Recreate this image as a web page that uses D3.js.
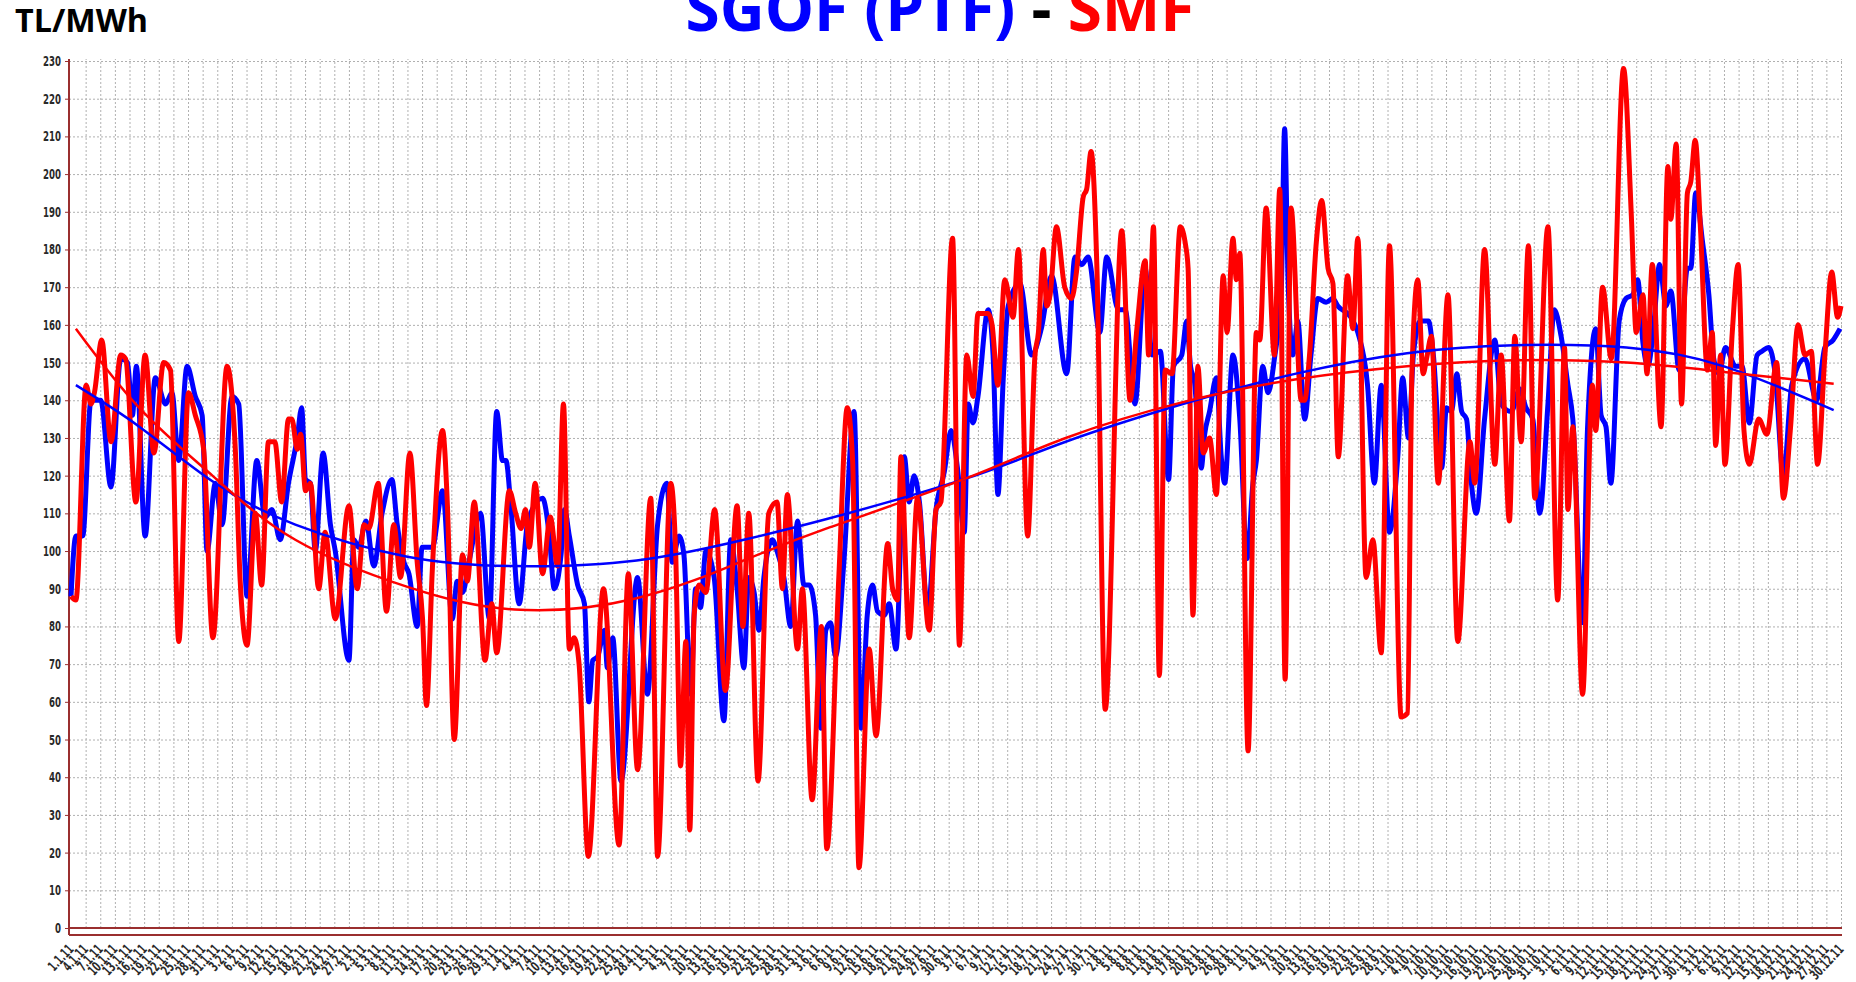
<!DOCTYPE html>
<html>
<head>
<meta charset="utf-8">
<script src="https://cdn.jsdelivr.net/npm/d3@7"></script>
<style>
  body { margin: 0; background: #fff; }
  .grid line { stroke: #b0b0b0; stroke-dasharray: 2,2; }
  .grid path { display: none; }
  .axis text { font-family: "DejaVu Sans", sans-serif; font-stretch: condensed; font-weight: bold; fill: #2a2a2a; }
</style>
</head>
<body>
<svg id="chart"></svg>
<script>
// day of year 2011 (1 = 1 Jan) and price TL/MWh at turning points
var sgofDays = [1,2,3.4,5.1,7.1,9.2,11.2,12.6,13.6,14.4,16.2,18.3,20.4,21.7,23.1,24.8,26.5,27.9,28.9,30.6,32,34,35.4,37.1,39.1,40.8,42.2,43.9,45.6,47.4,48.3,49.1,50.1,51.1,52.7,54.2,55.2,58,59,60,61.5,63.1,64.8,66.8,67.9,69.3,70.3,72,73,75.1,77.2,79.2,80.2,81.3,82.6,85,86.8,88.3,89.5,90.2,91.2,92.9,94.7,97.7,99.1,100.1,101.5,102.2,103.2,104.9,106.3,107.2,108,109,110.4,111,112.1,113.8,117.2,119.2,121.3,123.2,124.3,125.7,126.7,128.1,129.1,130.1,131.2,132.9,134.9,136.3,137.6,139,140,141.1,142.1,143.1,144.8,145.8,147.2,148.6,150,151.3,152.4,153.7,154.8,155.8,156.8,157.8,159.5,161.6,163,164.3,165.4,166.4,167.8,168.8,170.2,171.9,172.9,173.9,175,176.7,178.4,180.1,181.5,182.8,184.2,185,186,187,189.1,190.1,191.1,192.2,193.2,195.6,198,200,202.1,205.2,206.9,208.3,209.6,212,213.4,215.8,217.2,219.2,221.3,222.7,224.4,226.1,227.1,228.8,229.8,230.6,231.4,232.8,233.5,234.5,235.9,236.9,237.6,239.3,240.7,242.2,243.4,244.1,245.4,246.5,247.8,249.2,249.9,250.6,251.6,252.6,254,255.3,256.7,258.4,259.8,260.8,263.5,264.9,266.9,268.3,269.7,271.4,273.1,274.1,275.3,276.3,277.7,279.4,280.4,282.1,283.1,284.1,285.2,286.2,287.2,288.2,289.2,290.9,293,294.3,296.4,298.1,299.4,300.8,302.2,303.9,305.2,306.6,308,309,311,312,313.7,314.8,315.8,316.8,318.5,319.9,321.3,322.3,323.4,324.4,325.4,326.8,328.1,329.1,330.8,332.5,333.2,334.2,335.6,336.9,337.9,339,340.3,342.4,343.7,345.2,346.8,347.8,349.2,350.5,352.2,353.9,356.6,359,360.7,362.4,363.8];
var sgofPrices = [88,104,104,140,140,117,151,150,136,149,104,146,139,142,124,149,141,136,100,118,107,141,139,88,124,109,111,103,118,130,138,119,118,100,126,107,100,71,103,101,108,96,110,119,107,97,94,80,101,101,116,82,92,89,97,110,82,137,124,124,112,86,108,114,104,90,99,111,104,91,86,60,71,72,79,69,77,39,93,62,107,118,97,104,99,62,90,85,100,93,55,103,90,69,93,89,79,93,103,100,93,80,108,91,91,83,53,79,81,72,97,137,53,83,91,84,83,86,74,125,113,120,113,84,111,121,132,122,105,139,134,141,164,152,115,146,165,171,152,159,173,147,178,176,178,158,178,164,164,139,175,152,153,119,149,152,161,149,145,122,131,137,146,125,118,152,135,98,118,124,149,142,151,169,212,172,152,161,135,152,167,166,167,165,162,158,144,118,144,105,125,146,130,152,161,161,152,122,138,137,147,137,135,118,110,135,156,139,137,143,138,135,110,139,164,157,144,135,81,132,159,136,133,118,161,167,168,172,155,149,157,176,165,169,148,175,175,195,182,168,151,147,154,149,149,134,152,153,154,147,120,144,151,140,154,156,159];

var smfDays = [1,2,4.1,5.1,5.8,7.3,9.2,11.2,12.2,14.3,16.2,18,20,21.4,23.1,25.1,26.5,28.2,30.1,33,34.7,35.7,37.1,38.8,40.1,41.5,42.8,44.2,45.6,46.3,47.4,48.1,49.1,50.1,51.8,53.1,55.2,58,59.7,61.1,62.1,64,65.7,67.2,68.6,70.5,72,73.1,73.9,75.1,77.2,78.2,79.6,81.3,82.3,83.7,85.9,87.3,88.3,90.9,92.2,93.3,94.2,95,96.2,97.7,99.3,100.8,102,103.2,104.2,105.2,107.1,110.2,113.4,115.3,117.2,119.9,121.3,124,125,126,127.1,127.9,128.8,129.8,131.2,133,135.2,137.6,138.8,140,141.9,144.1,145.8,146.9,147.9,150,151,153,154.9,156,158.5,160.2,161.3,162.6,164.7,166.1,168.5,169.5,170.5,171.2,172.9,174.6,177,178.4,179.4,181.8,183.2,184.7,186,187,189.1,189.9,191.1,192.5,194.2,195.3,197.2,198.7,199.4,200.4,201.1,201.8,203.1,204.8,206.2,207.2,208.6,209.3,210.2,211.4,213.1,216.5,218.2,219.6,221.3,222,223,224.2,225.4,226.8,228.5,229.6,230.1,231.1,232.1,233.2,234.5,235.9,237.3,238.1,239.3,240,240.7,242.4,244.1,244.8,246.1,247.8,248.9,250,251.2,253.3,254,255,256.4,257.5,258.8,259.8,260.9,262.8,263.9,264.9,266.6,268,269.7,271.4,273.8,275.1,276,277.2,278.3,279,280,281.4,283.4,285.4,287.9,288.9,290.9,293,294.3,296,297.1,298.4,299.9,301.2,303.9,305.9,307.3,308,309,311,313,313.7,315.1,316.9,319.4,321,322,323.4,324.2,325.3,327.1,328.5,329.1,330.2,331.3,332.5,333.2,334.1,335.2,336.6,337.6,338.3,339.3,340.2,341.7,342.9,344.1,345.2,347.1,348.8,350.8,352.2,353.6,355.2,356.6,357.9,359.2,360.7,362.1,363.3,364];
var smfPrices = [88,87,144,139,142,156,129,152,151,113,152,126,150,148,76,142,136,127,77,149,127,92,75,110,91,129,129,113,135,135,127,131,116,118,90,105,82,112,90,107,106,118,84,107,93,126,97,82,59,95,132,112,50,99,92,113,71,86,73,116,110,106,111,101,118,94,109,96,139,74,77,70,19,90,22,94,42,114,19,118,100,43,76,26,83,91,89,111,63,112,80,110,39,110,113,90,115,74,90,34,80,21,94,138,124,16,74,51,102,90,87,125,77,114,79,111,113,183,75,152,141,163,163,160,144,172,162,180,104,152,158,180,165,168,186,170,167,174,194,196,206,175,58,185,140,159,177,152,186,67,148,147,186,181,175,83,149,126,130,115,173,158,183,172,179,47,158,156,191,152,196,66,191,140,140,152,182,193,175,171,125,173,159,183,93,103,73,181,56,57,147,172,147,151,157,118,168,76,129,118,180,123,152,108,157,129,181,114,186,87,154,111,133,62,144,132,170,151,228,189,158,168,147,176,133,202,188,208,139,195,198,209,185,148,158,128,152,123,158,176,132,123,135,131,150,114,132,160,152,153,123,152,174,162,165];

// trend curves as drawn in the picture
var trendDays = [2,15,30,47,70,92,117,139,156,184,205,229,252,275,297,320,340,362.5];
var sgofTrend = [144,133,118.5,107,98.5,96,97.5,103,108.5,119,129,139,147,152.5,154.6,154,149,137.4];
var smfTrend = [159,138,120,103,90.5,84.5,87.5,97.5,106,119,130,139.5,145.5,149,150.6,150,147.5,144.4];

var tickDays = d3.range(1, 365, 3);
var yTicks = d3.range(0, 231, 10);

var width = 1856, height = 982;
var axisColor = '#9a2f2f';
var svg = d3.select('#chart').attr('width', width).attr('height', height);

var x = d3.scaleLinear().domain([1, 364]).range([71, 1841]);
var y = d3.scaleLinear().domain([0, 230]).range([928, 61]);

var fmt = d => {
    var dt = new Date(2011, 0, d);
    return `${dt.getDate()}.${dt.getMonth() + 1}.11`;
};

// squeeze narrow labels so that a sample label gets the width seen in the picture
function squeeze(texts, sampleWidth) {
    var len = texts.nodes()[0].getComputedTextLength();
    return sampleWidth / len;
}

// grid
svg.append('g')
    .classed('grid', true)
    .attr('transform', 'translate(69,0)')
    .call(d3.axisLeft(y).tickValues(yTicks.slice(1)).tickSize(-(1842 - 69)).tickFormat(''));
svg.append('g')
    .classed('grid', true)
    .attr('transform', 'translate(0,928)')
    .call(d3.axisBottom(x).tickValues(tickDays.slice(1)).tickSize(-(928 - 59)).tickFormat(''));

// y axis
var yAxis = svg.append('g')
    .classed('axis', true)
    .attr('transform', 'translate(69,0)')
    .call(d3.axisLeft(y).tickValues(yTicks).tickSize(4).tickPadding(0));
yAxis.select('.domain').remove();
yAxis.selectAll('line').attr('stroke', axisColor);
var yText = yAxis.selectAll('text').style('font-size', '14px');
var ys = squeeze(yAxis.selectAll('text').filter(d => d === 230), 18);
yText.attr('x', -8 / ys).attr('transform', `scale(${ys},1)`);

// x labels
var xAxis = svg.append('g')
    .classed('axis', true)
    .attr('transform', 'translate(0,935)')
    .call(d3.axisBottom(x).tickValues(tickDays).tickSize(0).tickFormat(fmt));
xAxis.select('.domain').remove();
var xText = xAxis.selectAll('text')
    .style('font-size', '14px')
    .style('text-anchor', 'end')
    .attr('dy', null)
    .attr('y', 0);
var xs = squeeze(xText, 30);
xText.attr('transform', `translate(3,15) rotate(-47) scale(${xs},1)`);

// frame lines
svg.append('line').attr('x1', 69).attr('x2', 69).attr('y1', 59).attr('y2', 935)
    .attr('stroke', axisColor).attr('stroke-width', 2);
svg.append('line').attr('x1', 69).attr('x2', 1842).attr('y1', y(0)).attr('y2', y(0))
    .attr('stroke', axisColor).attr('stroke-width', 2);
svg.append('line').attr('x1', 69).attr('x2', 1842).attr('y1', 935).attr('y2', 935)
    .attr('stroke', axisColor).attr('stroke-width', 2);

// lines
var line = d3.line()
    .x(d => x(d[0]))
    .y(d => y(d[1]))
    .curve(d3.curveMonotoneX);
var trend = d3.line()
    .x(d => x(d[0]))
    .y(d => y(d[1]))
    .curve(d3.curveNatural);

svg.append('path')
    .datum(d3.zip(sgofDays, sgofPrices))
    .attr('fill', 'none').attr('stroke', '#0000ff').attr('stroke-width', 5)
    .attr('stroke-linejoin', 'round')
    .attr('d', line);
svg.append('path')
    .datum(d3.zip(smfDays, smfPrices))
    .attr('fill', 'none').attr('stroke', '#ff0000').attr('stroke-width', 5)
    .attr('stroke-linejoin', 'round')
    .attr('d', line);
svg.append('path')
    .datum(d3.zip(trendDays, sgofTrend))
    .attr('fill', 'none').attr('stroke', '#0000ff').attr('stroke-width', 2.5)
    .attr('d', trend);
svg.append('path')
    .datum(d3.zip(trendDays, smfTrend))
    .attr('fill', 'none').attr('stroke', '#ff0000').attr('stroke-width', 2.5)
    .attr('d', trend);

// titles
function fitWidth(sel, w) {
    var len = sel.node().getComputedTextLength();
    var fs = parseFloat(sel.style('font-size'));
    sel.style('font-size', (fs * w / len) + 'px');
}

var title = svg.append('text')
    .attr('x', 940)
    .attr('y', 31)
    .style('font-family', '"Open Sans", sans-serif')
    .style('font-weight', 'bold')
    .style('font-size', '56px')
    .style('text-anchor', 'middle');
title.append('tspan').attr('fill', '#0000ff').text('SGOF (PTF)');
title.append('tspan').attr('fill', '#000').text(' - ');
title.append('tspan').attr('fill', '#ff0000').text('SMF');
fitWidth(title, 509);

var unit = svg.append('text')
    .attr('x', 15)
    .attr('y', 32)
    .style('font-family', '"Open Sans", sans-serif')
    .style('font-weight', 'bold')
    .style('font-size', '32px')
    .text('TL/MWh');
fitWidth(unit, 133);
</script>
</body>
</html>
